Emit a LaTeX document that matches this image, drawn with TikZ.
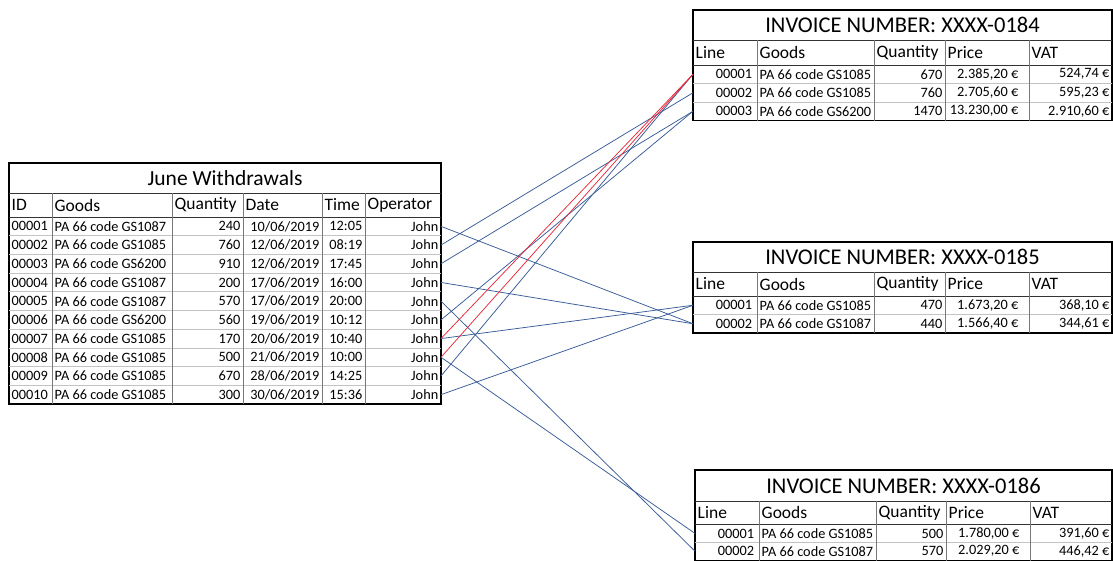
\documentclass[tikz,border=0pt]{standalone}
\usepackage{fontspec}
\setmainfont{Carlito}
\usetikzlibrary{positioning,calc}

\definecolor{linkblue}{RGB}{56,90,150}
\definecolor{linkred}{RGB}{232,40,58}
\definecolor{gridgray}{RGB}{195,195,195}
\definecolor{rulegray}{RGB}{120,120,120}

\begin{document}
\begin{tikzpicture}[x=1pt, y=-1pt,
    cellL/.style={anchor=west, inner xsep=2.5pt, inner ysep=0pt, font=\fontsize{14.3}{16}\selectfont},
    cellR/.style={anchor=east, inner xsep=2.5pt, inner ysep=0pt, font=\fontsize{14.3}{16}\selectfont},
    numcell/.style={anchor=west, text width=56pt, align=right, inner xsep=3pt, inner ysep=0pt, font=\fontsize{14.3}{16}\selectfont},
    head/.style={anchor=west, inner xsep=2.5pt, inner ysep=0pt, font=\fontsize{17.5}{20}\selectfont},
    title/.style={inner sep=0pt, font=\fontsize{22.5}{26}\selectfont},
    frame/.style={draw=black, line width=1.1pt},
    rowrule/.style={draw=gridgray, line width=0.7pt},
    colrule/.style={draw=rulegray, line width=0.7pt},
    headrule/.style={draw=black!80, line width=0.8pt},
    link/.style={draw=linkblue, line width=0.75pt},
    badlink/.style={draw=linkred, line width=0.75pt},
]
\clip (0,0) rectangle (1113,560);

% June Withdrawals
\draw[frame] (9,163) rectangle (441,404);
\draw[headrule] (9,193) -- (441,193);
\draw[headrule] (9,217) -- (441,217);
\foreach \r in {1,...,9} \draw[rowrule] (9,{217+18.7*\r}) -- (441,{217+18.7*\r});
\foreach \c in {52,172,243,322,365} \draw[colrule] (\c,193) -- (\c,404);

\node[title, font=\fontsize{21.5}{25}\selectfont] (wtitle) at (225,178) {June Withdrawals};
\node[head] (hid) at (9,205) {ID};
\node[head] (hgoods) at (52,205) {Goods};
\node[head] (hqty) at (172,205) {Quantity};
\node[head] (hdate) at (243,205) {Date};
\node[head] (htime) at (322,205) {Time};
\node[head] (hop) at (365,205) {Operator};

\foreach \i/\nr/\gs/\qt/\dd/\hm in {1/00001/1087/240/10/12:05, 2/00002/1085/760/12/08:19,
    3/00003/6200/910/12/17:45, 4/00004/1087/200/17/16:00, 5/00005/1087/570/17/20:00,
    6/00006/6200/560/19/10:12, 7/00007/1085/170/20/10:40, 8/00008/1085/500/21/10:00,
    9/00009/1085/670/28/14:25, 10/00010/1085/300/30/15:36} {
  \pgfmathsetmacro\yy{217+18.7*(\i-0.5)}
  \node[cellL] (id\i) at (9,\yy) {\nr};
  \node[cellL] (goods\i) at (52,\yy) {PA 66 code GS\gs};
  \node[cellR] (qty\i) at (243,\yy) {\qt};
  \node[cellR] (date\i) at (322,\yy) {\dd/06/2019};
  \node[cellR] (time\i) at (365,\yy) {\hm};
  \node[cellR] (john\i) at (441,\yy) {John};
}

% Invoice XXXX-0184
\draw[frame] (693,10) rectangle (1112,120.5);
\draw[headrule] (693,40) -- (1112,40);
\draw[headrule] (693,65) -- (1112,65);
\foreach \r in {1,2} \draw[rowrule] (693,{65+18.5*\r}) -- (1112,{65+18.5*\r});
\foreach \c in {757,874,945,1029} \draw[colrule] (\c,40) -- (\c,120.5);
\node[title] (inv184) at (902.5,25) {INVOICE NUMBER: XXXX-0184};
\node[head] (la) at (693,52.5) {Line};
\node[head] (ga) at (757,52.5) {Goods};
\node[head] (qa) at (874,52.5) {Quantity};
\node[head] (pa) at (945,52.5) {Price};
\node[head] (va) at (1029,52.5) {VAT};
\foreach \i/\gs/\qt/\pr/\vt in {1/1085/670/{2.385,20}/{524,74}, 2/1085/760/{2.705,60}/{595,23},
    3/6200/1470/{13.230,00}/{2.910,60}} {
  \pgfmathsetmacro\yy{65+18.5*(\i-0.5)}
  \node[numcell] (a\i) at (693,\yy) {0000\i};
  \node[cellL] at (757,\yy) {PA 66 code GS\gs};
  \node[cellR] at (945,\yy) {\qt};
  \node[cellR] at (1021,\yy) {\pr~€};
  \node[cellR] at (1112,\yy) {\vt~€};
}

% Invoice XXXX-0185
\draw[frame] (693,242) rectangle (1112,333);
\draw[headrule] (693,272) -- (1112,272);
\draw[headrule] (693,296) -- (1112,296);
\draw[rowrule] (693,314.5) -- (1112,314.5);
\foreach \c in {757,874,945,1029} \draw[colrule] (\c,272) -- (\c,333);
\node[title] (inv185) at (902.5,257) {INVOICE NUMBER: XXXX-0185};
\node[head] (lb) at (693,284) {Line};
\node[head] (gb) at (757,284) {Goods};
\node[head] (qb) at (874,284) {Quantity};
\node[head] (pb) at (945,284) {Price};
\node[head] (vb) at (1029,284) {VAT};
\foreach \i/\gs/\qt/\pr/\vt in {1/1085/470/{1.673,20}/{368,10}, 2/1087/440/{1.566,40}/{344,61}} {
  \pgfmathsetmacro\yy{296+18.5*(\i-0.5)}
  \node[numcell] (b\i) at (693,\yy) {0000\i};
  \node[cellL] at (757,\yy) {PA 66 code GS\gs};
  \node[cellR] at (945,\yy) {\qt};
  \node[cellR] at (1021,\yy) {\pr~€};
  \node[cellR] at (1112,\yy) {\vt~€};
}

% Invoice XXXX-0186
\draw[frame] (695,470) rectangle (1112,561);
\draw[headrule] (695,501) -- (1112,501);
\draw[headrule] (695,524.5) -- (1112,524.5);
\draw[rowrule] (695,542.5) -- (1112,542.5);
\foreach \c in {759,876,946,1030} \draw[colrule] (\c,501) -- (\c,561);
\node[title] (inv186) at (903.5,485.5) {INVOICE NUMBER: XXXX-0186};
\node[head] (lc) at (695,512.5) {Line};
\node[head] (gc) at (759,512.5) {Goods};
\node[head] (qc) at (876,512.5) {Quantity};
\node[head] (pc) at (946,512.5) {Price};
\node[head] (vc) at (1030,512.5) {VAT};
\foreach \i/\gs/\qt/\pr/\vt in {1/1085/500/{1.780,00}/{391,60}, 2/1087/570/{2.029,20}/{446,42}} {
  \pgfmathsetmacro\yy{524.5+17.8*(\i-0.5)}
  \node[numcell] (c\i) at (695,\yy) {0000\i};
  \node[cellL] at (759,\yy) {PA 66 code GS\gs};
  \node[cellR] at (946,\yy) {\qt};
  \node[cellR] at (1022,\yy) {\pr~€};
  \node[cellR] at (1112,\yy) {\vt~€};
}

% withdrawals matched to invoice lines
\draw[link] (john1.east) -- (b2.west);
\draw[link] (john2.east) -- (a2.west);
\draw[link] (john3.east) -- (a3.west);
\draw[link] (john4.east) -- (b2.west);
\draw[link] (john5.east) -- (c2.west);
\draw[link] (john6.east) -- (a3.west);
\draw[link] (john7.east) -- (b1.west);
\draw[link] (john8.east) -- (c1.west);
\draw[link] (john9.east) -- (a1.west);
\draw[link] (john10.east) -- (b1.west);
% red ones
\draw[badlink] (john7.east) -- (a1.west);
\draw[badlink] (john8.east) -- (a1.west);

\end{tikzpicture}
\end{document}
